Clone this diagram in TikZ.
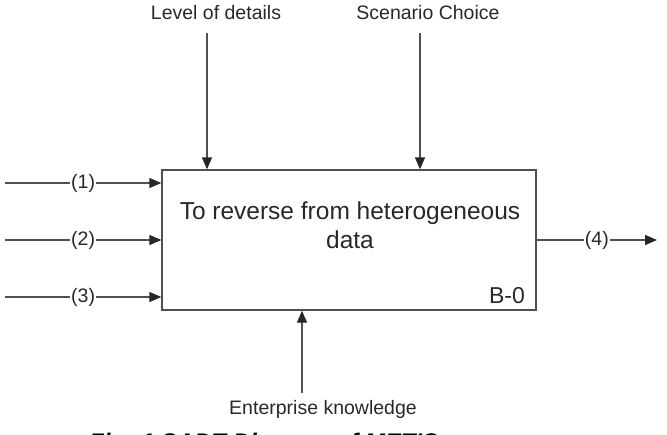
\documentclass[tikz,border=0pt]{standalone}
\usepackage{fontspec}
\setmainfont{Liberation Sans}
\usetikzlibrary{arrows.meta}
\definecolor{linec}{RGB}{80,80,80}
\definecolor{txtc}{RGB}{40,40,40}
\begin{document}
\begin{tikzpicture}[x=1pt,y=-1pt,
  arr/.style={draw=linec,line width=1.4pt,-{Triangle[length=12pt,width=10pt,color=black!85]}},
  lbl/.style={text=txtc,font=\fontsize{19.5}{23}\selectfont,inner sep=0pt},
  plbl/.style={lbl,fill=white,inner xsep=1pt,inner ysep=0pt},
  boxst/.style={draw=linec,line width=1.4pt,minimum width=374pt,minimum height=140pt,inner sep=0pt}
]
\useasboundingbox (0,0) rectangle (667,434);
\node[boxst] (box) at (349,240) {};
\node[lbl,font=\fontsize{24.5}{29}\selectfont,align=center,anchor=base] (title) at (350,248) {To reverse from heterogeneous\\data};
\node[lbl,font=\fontsize{23}{27}\selectfont,anchor=base east] (code) at (525,303.5) {B-0};
% inputs
\coordinate (i1) at (5,183);
\coordinate (i2) at (5,240);
\coordinate (i3) at (5,297);
\draw[arr] (i1) -- (box.west |- i1) node[plbl,pos=0.5] (l1) {(1)};
\draw[arr] (i2) -- (box.west |- i2) node[plbl,pos=0.5] (l2) {(2)};
\draw[arr] (i3) -- (box.west |- i3) node[plbl,pos=0.5] (l3) {(3)};
% output
\coordinate (o4) at (657,240);
\draw[arr] (box.east) -- (o4) node[plbl,pos=0.5] (l4) {(4)};
% controls
\node[lbl,anchor=base] (lvl) at (216,19.5) {Level of details};
\node[lbl,anchor=base] (scn) at (428,19.5) {Scenario Choice};
\coordinate (c1) at (207,33);
\coordinate (c2) at (420,33);
\draw[arr] (c1) -- (c1 |- box.north);
\draw[arr] (c2) -- (c2 |- box.north);
% mechanism
\node[lbl,anchor=base] (ent) at (323,414) {Enterprise knowledge};
\coordinate (c3) at (302,393);
\draw[arr] (c3) -- (c3 |- box.south);
% caption, cut at the lower edge as in the reference
\begin{scope}
\clip (0,0) rectangle (667,434);
\node[text=black,font=\fontsize{24}{28}\selectfont\bfseries\itshape,anchor=base west,inner sep=0pt] (cap) at (89,450) {Fig. 1 SADT Diagram of METIS};
\end{scope}
\end{tikzpicture}
\end{document}
